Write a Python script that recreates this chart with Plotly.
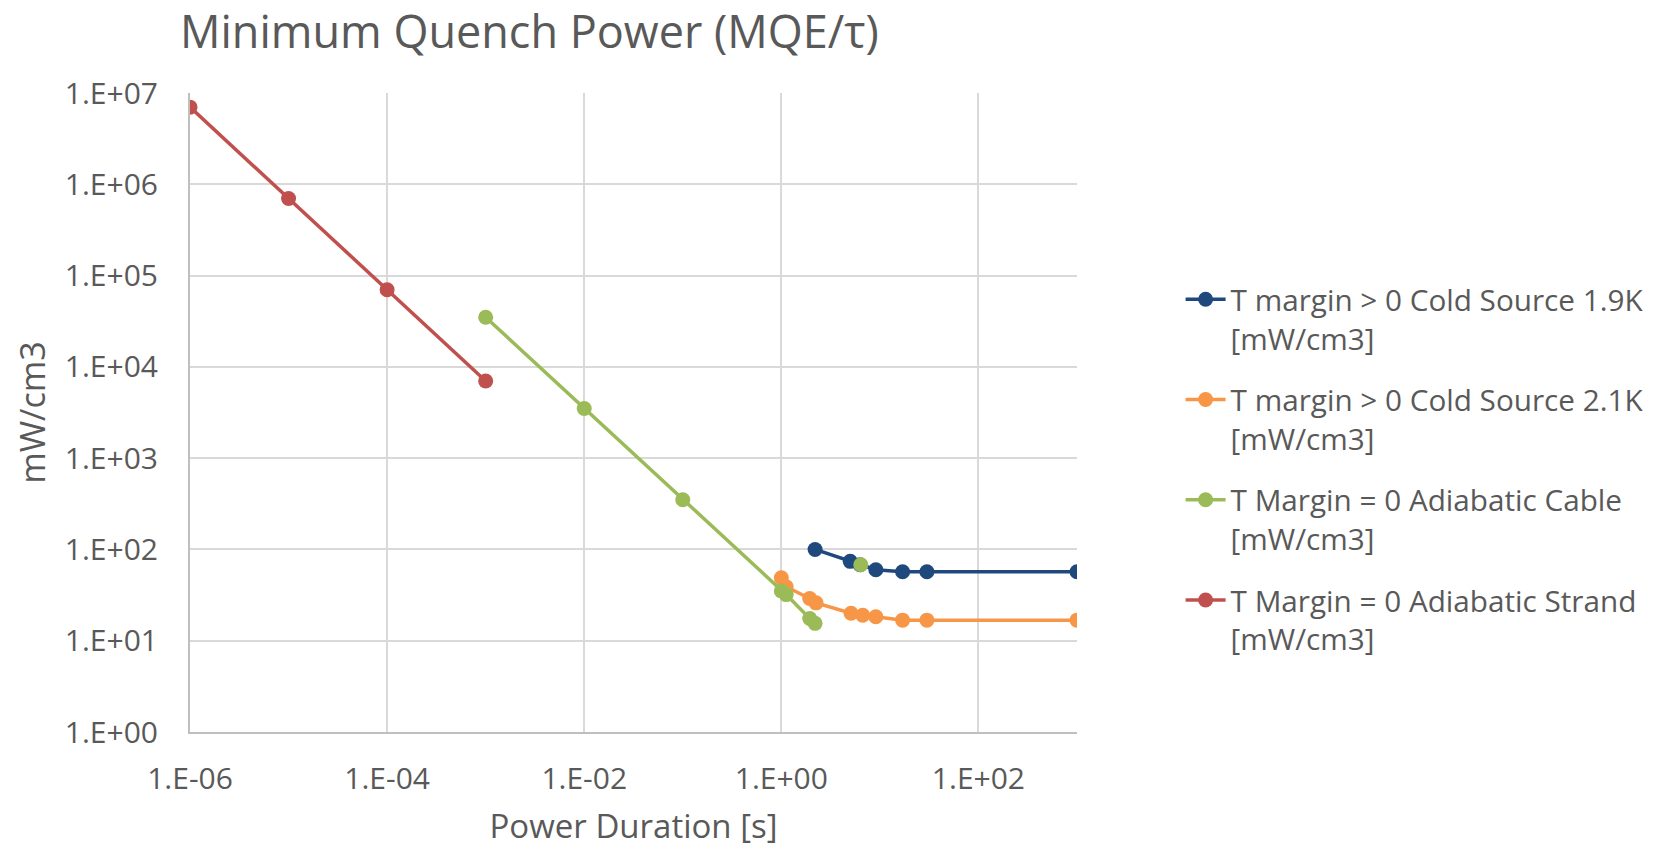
import plotly.graph_objects as go

# ---- data ----
blue_x = [2.2, 5.0, 6.3, 9.1, 17, 30, 1000]
blue_y = [100, 74, 68, 60, 57, 57, 57]

orange_x = [1.0, 1.12, 1.94, 2.25, 5.1, 6.7, 9.1, 17, 30, 1000]
orange_y = [49, 39, 29, 26, 20, 19, 18.3, 16.8, 16.8, 16.8]

green_x = [1e-3, 1e-2, 1e-1, 1.0, 1.12, 1.94, 2.2, None, 6.4]
green_y = [35000, 3500, 350, 35, 32, 17.5, 15.5, None, 68]

red_x = [1e-6, 1e-5, 1e-4, 1e-3]
red_y = [7e6, 7e5, 7e4, 7e3]

series_names = [
    "T margin > 0 Cold Source 1.9K<br>[mW/cm3]",
    "T margin > 0 Cold Source 2.1K<br>[mW/cm3]",
    "T Margin = 0 Adiabatic Cable<br>[mW/cm3]",
    "T Margin = 0 Adiabatic Strand<br>[mW/cm3]",
]
series_colors = ["#1F497D", "#F79646", "#9BBB59", "#C0504D"]

x_tickvals = [1e-6, 1e-4, 1e-2, 1e0, 1e2]
x_ticktext = ["1.E-06", "1.E-04", "1.E-02", "1.E+00", "1.E+02"]
y_tickvals = [1, 10, 100, 1e3, 1e4, 1e5, 1e6, 1e7]
y_ticktext = ["1.E+00", "1.E+01", "1.E+02", "1.E+03", "1.E+04", "1.E+05", "1.E+06", "1.E+07"]

FONT = "Open Sans"
TXT = "#595959"
W, H = 1654, 848

fig = go.Figure()
for i, (xs, ys) in enumerate([(blue_x, blue_y), (orange_x, orange_y), (green_x, green_y), (red_x, red_y)]):
    fig.add_trace(go.Scatter(
        x=xs, y=ys, mode="lines+markers", name=series_names[i],
        legendgroup=f"g{i}",
        line=dict(color=series_colors[i], width=3.5),
        marker=dict(color=series_colors[i], size=15),
        connectgaps=False,
    ))

fig.update_layout(
    width=W, height=H,
    margin=dict(l=190, r=577, t=93, b=116),
    paper_bgcolor="white", plot_bgcolor="white",
    font=dict(family=FONT, color=TXT),
    title=dict(text="Minimum Quench Power (MQE/τ)", font=dict(family=FONT, size=45, color=TXT),
               xref="container", yref="container", x=180/W, xanchor="left",
               y=1 - 32/H, yanchor="middle"),
    showlegend=True,
    legend=dict(xref="container", yref="container",
                x=1180.6/W, xanchor="left", y=1 - 273.5/H, yanchor="top",
                font=dict(family=FONT, size=29.7, color=TXT),
                valign="top", traceorder="grouped", tracegroupgap=20,
                itemwidth=40, bgcolor="rgba(0,0,0,0)"),
)
fig.update_xaxes(
    type="log", range=[-6, 3], automargin=False,
    tickvals=x_tickvals, ticktext=x_ticktext,
    showgrid=True, gridcolor="#D9D9D9", gridwidth=2,
    showline=True, linecolor="#BFBFBF", linewidth=2,
    zeroline=False, ticks="", ticklabelstandoff=19,
    tickfont=dict(family=FONT, size=30, color=TXT),
    title=dict(text="Power Duration [s]", font=dict(family=FONT, size=33, color=TXT), standoff=19),
)
fig.update_yaxes(
    type="log", range=[0, 7], automargin=False,
    tickvals=y_tickvals, ticktext=y_ticktext,
    showgrid=True, gridcolor="#D9D9D9", gridwidth=2,
    showline=True, linecolor="#BFBFBF", linewidth=2,
    zeroline=False, ticks="", ticklabelstandoff=24,
    tickfont=dict(family=FONT, size=30, color=TXT),
    title=dict(text="mW/cm3", font=dict(family=FONT, size=34, color=TXT), standoff=9),
)

# remove the browser's default 8 px body margin so the figure fills the window
fig.write_html("out.html", config={"displayModeBar": False},
               post_script="document.body.style.margin='0px';")
